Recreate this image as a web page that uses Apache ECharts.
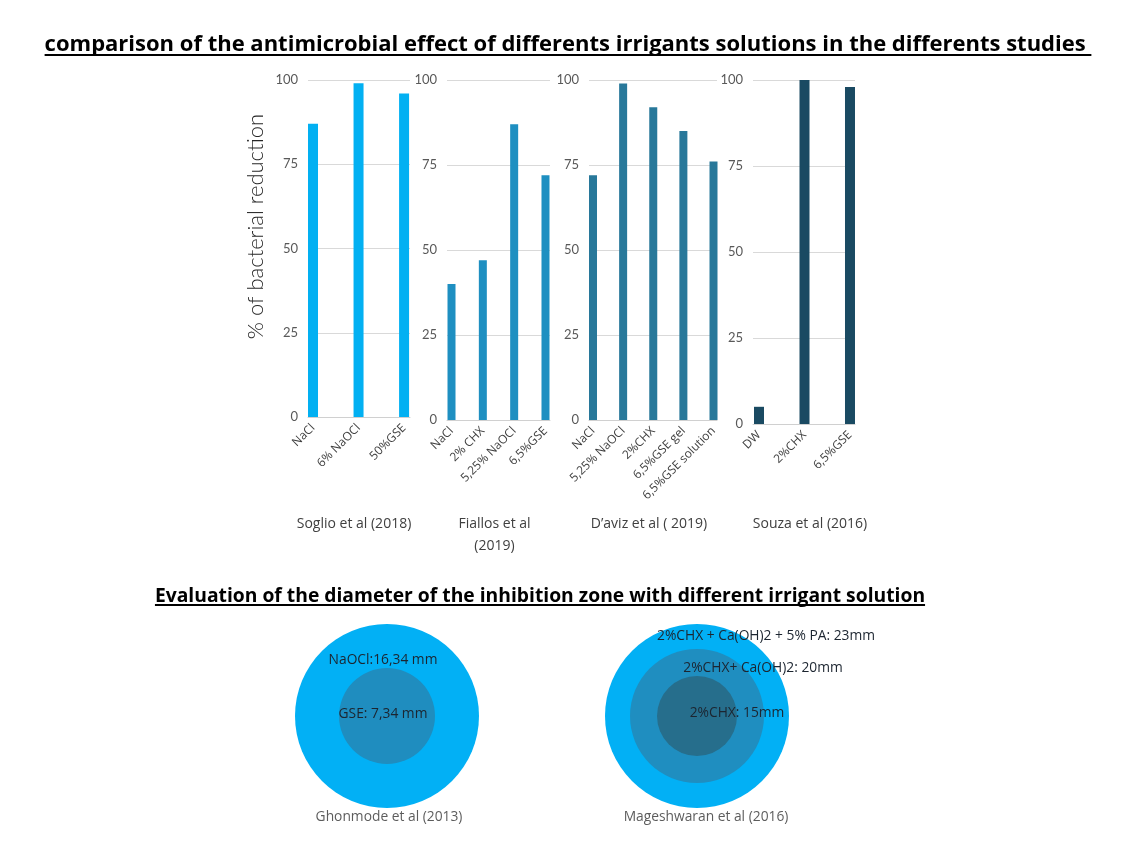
<!DOCTYPE html>
<html>
<head>
<meta charset="utf-8">
<script src="https://cdn.jsdelivr.net/npm/echarts@6/dist/echarts.min.js"></script>
<style>
html,body{margin:0;padding:0;background:#fff;}
#main{width:1129px;height:852px;}
</style>
</head>
<body>
<div id="main"></div>
<script>
// ---------- DATA ----------
const mainTitle = 'comparison of the antimicrobial effect of differents irrigants solutions in the differents studies ';
const zoneTitle = 'Evaluation of the diameter of the inhibition zone with different irrigant solution';
const yAxisTitle = '% of bacterial reduction';
const yTicks = [0, 25, 50, 75, 100];

const studies = ['Soglio et al (2018)', 'Fiallos et al\n(2019)', 'D\u2019aviz et al ( 2019)', 'Souza et al (2016)'];

const sogliCats = ['NaCl', '6% NaOCl', '50%GSE'];
const sogliVals = [87, 99, 96];

const fiallosCats = ['NaCl', '2% CHX', '5,25% NaOCl', '6,5%GSE'];
const fiallosVals = [40, 47, 87, 72];

const davizCats = ['NaCl', '5,25% NaOCl', '2%CHX', '6,5%GSE gel', '6,5%GSE solution'];
const davizVals = [72, 99, 92, 85, 76];

const souzaCats = ['DW', '2%CHX', '6,5%GSE'];
const souzaVals = [5, 100, 98];

const zoneStudies = ['Ghonmode et al (2013)', 'Mageshwaran et al (2016)'];
const zoneDiameters = [[16.34, 7.34], [23, 20, 15]];
const zoneLabels = [['NaOCl:16,34 mm', 'GSE: 7,34 mm'],
                    ['2%CHX + Ca(OH)2 + 5% PA: 23mm', '2%CHX+ Ca(OH)2: 20mm', '2%CHX: 15mm']];

// ---------- STYLE / LAYOUT ----------
const panels = [
  {cats: sogliCats, vals: sogliVals, color: '#02B0F2', grid: {left: 308, top: 80, width: 102, height: 337}, min: -0.11, max: 2.13, barW: 10, nameGap: 96},
  {cats: fiallosCats, vals: fiallosVals, color: '#1E8FC1', grid: {left: 447, top: 80, width: 103, height: 340}, min: -0.144, max: 3.144, barW: 8, nameGap: 93},
  {cats: davizCats, vals: davizVals, color: '#28789A', grid: {left: 589, top: 80, width: 128, height: 340}, min: -0.133, max: 4.116, barW: 8, nameGap: 93},
  {cats: souzaCats, vals: souzaVals, color: '#1A4A62', grid: {left: 753, top: 80, width: 102, height: 344}, min: -0.132, max: 2.11, barW: 10, nameGap: 89}
];
const nameShift = [-5, -4, -4, 6];

const ringSizes = [[184, 96], [184, 134, 80]];
const ringColors = [['#02B0F5', '#1F8DBF'], ['#02B0F5', '#1F8EC0', '#266E8C']];
const labelOffsets = [[[-4, -56], [-4, -2]], [[69, -80], [66, -48], [40, -3]]];
const captionOffsets = [[2, 101], [9, 101]];

const TXT = '#404040';

function measure(text, font) {
  const c = document.createElement('canvas').getContext('2d');
  c.font = font;
  return c.measureText(text).width;
}

const grids = [], xAxes = [], yAxes = [], series = [];
panels.forEach((p, i) => {
  grids.push(Object.assign({containLabel: false}, p.grid));
  xAxes.push({
    gridIndex: i, type: 'value', min: p.min, max: p.max,
    axisLine: {show: true, onZero: false, lineStyle: {color: '#d0d0d0', width: 1}},
    axisTick: {show: false},
    splitLine: {show: false},
    axisLabel: {
      customValues: p.cats.map((_, j) => j),
      formatter: v => p.cats[Math.round(v)],
      rotate: 45, margin: 9,
      fontFamily: 'Open Sans', fontSize: 12, color: TXT
    },
    name: studies[i], nameLocation: 'middle', nameGap: p.nameGap,
    nameTextStyle: {fontFamily: 'Open Sans', fontSize: 14, color: TXT, lineHeight: 22, padding: [0, 0, 0, nameShift[i] * 2]}
  });
  const y = {
    gridIndex: i, type: 'value', min: 0, max: 100, interval: 25,
    axisLine: {show: false}, axisTick: {show: false},
    splitLine: {show: true, lineStyle: {color: '#d9d9d9', width: 1}},
    axisLabel: {fontFamily: 'Lato', fontSize: 13, color: '#595959', margin: 10}
  };
  if (i === 0) {
    y.name = yAxisTitle;
    y.nameLocation = 'middle';
    y.nameGap = 41;
    y.nameTextStyle = {fontFamily: 'Lato', fontSize: 22, fontWeight: 300, color: '#262626', padding: [0, 0, 0, 44]};
  }
  yAxes.push(y);
  series.push({
    type: 'bar', xAxisIndex: i, yAxisIndex: i,
    barWidth: p.barW,
    itemStyle: {color: p.color},
    data: p.vals.map((v, j) => [j, v]),
    silent: true
  });
});

// hidden cartesian for the inhibition-zone circles
grids.push({left: 387, top: 616, width: 310, height: 200});
xAxes.push({gridIndex: 4, type: 'value', min: 0, max: 1, show: false});
yAxes.push({gridIndex: 4, type: 'value', min: -1, max: 1, show: false});

const maxRings = 3;
for (let r = 0; r < maxRings; r++) {
  const data = [];
  zoneStudies.forEach((s, si) => {
    if (r < zoneDiameters[si].length) {
      const S = ringSizes[si][r];
      const o = labelOffsets[si][r];
      data.push({
        value: [si, 0, zoneDiameters[si][r]],
        symbolSize: S,
        itemStyle: {color: ringColors[si][r], opacity: 1},
        label: {
          show: true, formatter: zoneLabels[si][r],
          position: [S / 2 + o[0], S / 2 + o[1]], align: 'center', verticalAlign: 'middle'
        }
      });
    }
  });
  series.push({
    type: 'scatter', xAxisIndex: 4, yAxisIndex: 4, z: 2 + r,
    symbol: 'circle', silent: true,
    itemStyle: {opacity: 1},
    label: {fontFamily: 'Open Sans', fontSize: 13.8, color: '#1c2530'},
    data: data
  });
}
series.push({
  type: 'scatter', xAxisIndex: 4, yAxisIndex: 4, z: 6, silent: true,
  symbolSize: 2, itemStyle: {color: 'rgba(0,0,0,0)'},
  data: zoneStudies.map((s, si) => ({
    value: [si, 0],
    label: {show: true, formatter: s, position: [1 + captionOffsets[si][0], 1 + captionOffsets[si][1]],
            align: 'center', verticalAlign: 'middle',
            fontFamily: 'Open Sans', fontSize: 13.8, color: '#333333'}
  }))
});

const titleFont = 'bold 22px "Open Sans"';
const subFont = 'bold 19.3px "Open Sans"';
const tW = measure(mainTitle.trimEnd(), titleFont) + measure(' ', titleFont);
const sW = measure(zoneTitle, subFont);
const tCx = 568, sCx = 540;

const chart = echarts.init(document.getElementById('main'), null, {renderer: 'canvas'});
chart.setOption({
  backgroundColor: '#fff',
  animation: false,
  grid: grids,
  xAxis: xAxes,
  yAxis: yAxes,
  series: series,
  graphic: [
    {type: 'text', left: tCx - tW / 2, top: 34,
     style: {text: mainTitle, font: titleFont, fill: '#000'}},
    {type: 'line', shape: {x1: tCx - tW / 2, y1: 55, x2: tCx + tW / 2, y2: 55},
     style: {stroke: '#000', lineWidth: 2}},
    {type: 'text', left: sCx - sW / 2, top: 587,
     style: {text: zoneTitle, font: subFont, fill: '#000'}},
    {type: 'line', shape: {x1: sCx - sW / 2, y1: 605, x2: sCx + sW / 2, y2: 605},
     style: {stroke: '#000', lineWidth: 2}}
  ]
});
</script>
</body>
</html>
